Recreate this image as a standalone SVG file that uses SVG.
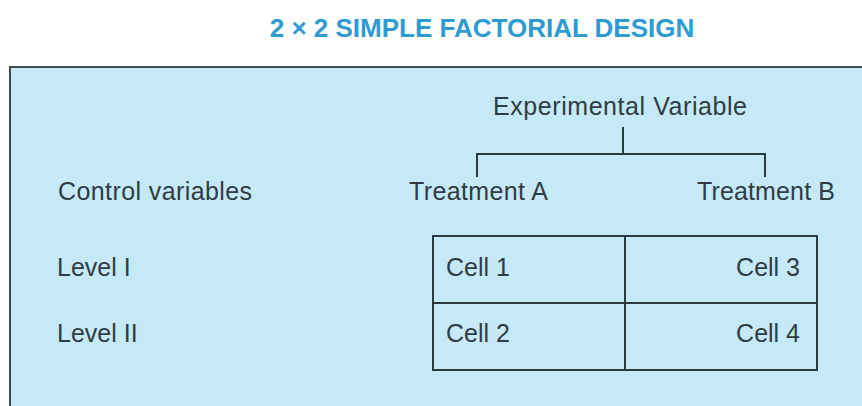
<svg xmlns="http://www.w3.org/2000/svg" width="862" height="406" viewBox="0 0 862 406">
  <style>
    .t { font-family: "Liberation Sans", Arial, sans-serif; font-size: 25px; fill: #2f3c44; }
    .title { font-family: "Liberation Sans", Arial, sans-serif; font-size: 26px; font-weight: bold; fill: #2e9bd3; }
    .ln { stroke: #2b3a42; stroke-width: 2; fill: none; }
  </style>
  <rect x="0" y="0" width="862" height="406" fill="#ffffff"/>
  <text class="title" x="482" y="37" text-anchor="middle">2 × 2 SIMPLE FACTORIAL DESIGN</text>
  <g id="panel">
    <rect x="10" y="67" width="860" height="350" fill="#c6e9f8" stroke="#3d4c52" stroke-width="2"/>
  </g>
  <g id="experimental-variable">
    <text class="t" x="493" y="115" textLength="254" lengthAdjust="spacing">Experimental Variable</text>
  </g>
  <g id="treatment-a">
    <text class="t" x="409" y="200" textLength="139" lengthAdjust="spacing">Treatment A</text>
  </g>
  <g id="treatment-b">
    <text class="t" x="697" y="200" textLength="138" lengthAdjust="spacing">Treatment B</text>
  </g>
  <g id="control-variables">
    <text class="t" x="58" y="200" textLength="194" lengthAdjust="spacing">Control variables</text>
  </g>
  <g id="level-1">
    <text class="t" x="57" y="276">Level I</text>
  </g>
  <g id="level-2">
    <text class="t" x="57" y="342">Level II</text>
  </g>
  <g id="table">
    <rect class="ln" x="433" y="236" width="384" height="134"/>
    <line class="ln" x1="433" y1="303" x2="817" y2="303"/>
    <line class="ln" x1="625" y1="236" x2="625" y2="370"/>
  </g>
  <g id="cell-1"><text class="t" x="446" y="276">Cell 1</text></g>
  <g id="cell-3"><text class="t" x="800" y="276" text-anchor="end">Cell 3</text></g>
  <g id="cell-2"><text class="t" x="446" y="342">Cell 2</text></g>
  <g id="cell-4"><text class="t" x="800" y="342" text-anchor="end">Cell 4</text></g>
  <g id="connectors">
    <path class="ln" d="M623 127 V154 M477 177 V154 H765 V177"/>
  </g>
</svg>
